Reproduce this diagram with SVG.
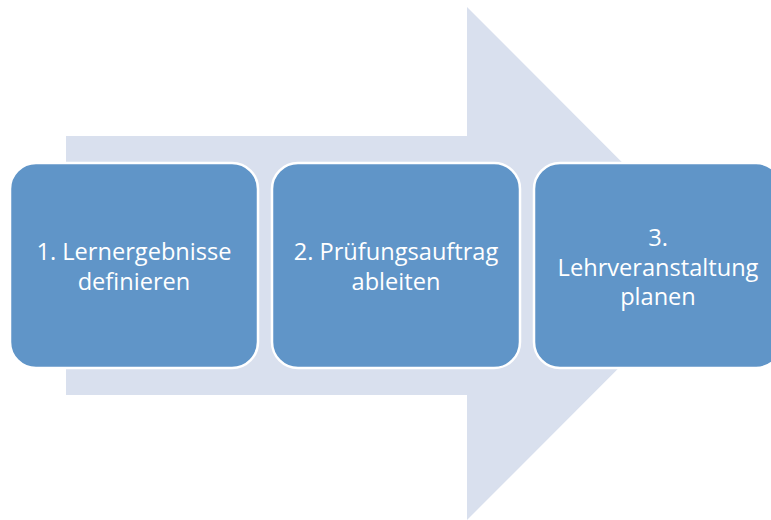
<svg xmlns="http://www.w3.org/2000/svg" width="771" height="520" viewBox="0 0 771 520">
<style>
.box{fill:#6095c8;stroke:#ffffff;stroke-width:2.5}
.lbl{font-family:"Open Sans","Liberation Sans",sans-serif;font-size:23.6px;fill:#ffffff;text-anchor:middle}
</style>
<rect width="771" height="520" fill="#ffffff"/>
<g id="arrow">
<polygon points="66,136 467,136 467,7 723,263.5 467,520 467,395 66,395" fill="#d9e0ee"/>
</g>
<g id="node1">
<rect class="box" x="10" y="163" width="248" height="205" rx="26" ry="26"/>
<text class="lbl" x="134" y="260">1. Lernergebnisse</text>
<text class="lbl" x="134" y="290">definieren</text>
</g>
<g id="node2">
<rect class="box" x="272" y="163" width="248" height="205" rx="26" ry="26"/>
<text class="lbl" x="396" y="260">2. Prüfungsauftrag</text>
<text class="lbl" x="396" y="290">ableiten</text>
</g>
<g id="node3">
<rect class="box" x="534" y="163" width="248" height="205" rx="26" ry="26"/>
<text class="lbl" x="658" y="246">3.</text>
<text class="lbl" x="658" y="276">Lehrveranstaltung</text>
<text class="lbl" x="658" y="305">planen</text>
</g>
<g id="connectors"></g>
</svg>
